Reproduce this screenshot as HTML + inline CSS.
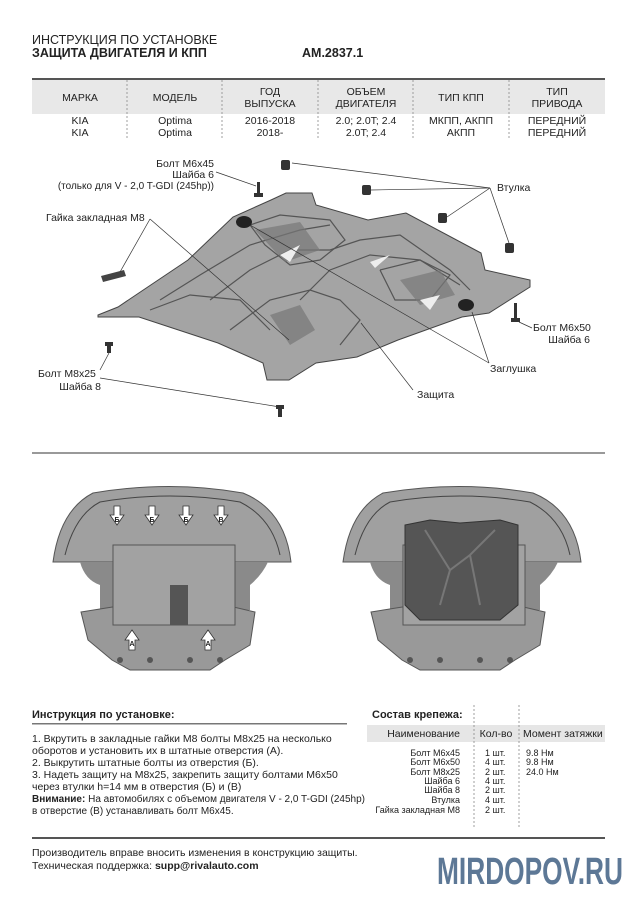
<!DOCTYPE html>
<html><head><meta charset="utf-8"><style>
html,body{margin:0;padding:0;background:#fff;}
svg{display:block;}
text{font-family:"Liberation Sans",sans-serif;fill:#222;}
.s{font-size:10.5px;}
.t{font-size:9px;fill:#333;}
</style></head><body>
<svg width="636" height="900" viewBox="0 0 636 900" xmlns="http://www.w3.org/2000/svg">
<!-- header -->
<text x="32" y="44" font-size="12.5">ИНСТРУКЦИЯ ПО УСТАНОВКЕ</text>
<text x="32" y="57" font-size="12.5" font-weight="bold">ЗАЩИТА ДВИГАТЕЛЯ И КПП</text>
<text x="302" y="57" font-size="12.5" font-weight="bold">АМ.2837.1</text>
<rect x="32" y="78" width="573" height="2" fill="#555"/>
<rect x="32" y="80" width="573" height="34" fill="#e8e8e8"/>
<g stroke="#888" stroke-dasharray="2,2" stroke-width="0.8">
<line x1="127" y1="80" x2="127" y2="140"/><line x1="222" y1="80" x2="222" y2="140"/>
<line x1="318" y1="80" x2="318" y2="140"/><line x1="413" y1="80" x2="413" y2="140"/>
<line x1="509" y1="80" x2="509" y2="140"/></g>
<g font-size="10.5" text-anchor="middle">
<text x="80" y="101">МАРКА</text><text x="175" y="101">МОДЕЛЬ</text>
<text x="270" y="95">ГОД</text><text x="270" y="107">ВЫПУСКА</text>
<text x="366" y="95">ОБЪЕМ</text><text x="366" y="107">ДВИГАТЕЛЯ</text>
<text x="461" y="101">ТИП КПП</text>
<text x="557" y="95">ТИП</text><text x="557" y="107">ПРИВОДА</text>
<text x="80" y="124">KIA</text><text x="80" y="136">KIA</text>
<text x="175" y="124">Optima</text><text x="175" y="136">Optima</text>
<text x="270" y="124">2016-2018</text><text x="270" y="136">2018-</text>
<text x="366" y="124">2.0; 2.0T; 2.4</text><text x="366" y="136">2.0T; 2.4</text>
<text x="461" y="124">МКПП, АКПП</text><text x="461" y="136">АКПП</text>
<text x="557" y="124">ПЕРЕДНИЙ</text><text x="557" y="136">ПЕРЕДНИЙ</text>
</g>

<!-- exploded diagram -->
<polygon points="98,315 118,307 188,260 233,217 271,200 286,193 312,193 316,205 368,220 406,213 481,253 485,270 530,280 530,287 489,313 462,317 398,340 357,357 316,363 289,380 267,380 263,363 218,343 139,317 98,317" fill="#a4a4a4" stroke="#444" stroke-width="1"/>
<g fill="none" stroke="#555" stroke-width="1.2">
<polyline points="160,300 200,275 250,245 300,230 330,225"/>
<polyline points="210,300 250,270 290,250 330,250 360,240 400,235 450,270 470,290"/>
<polyline points="230,330 270,300 310,290 340,300 360,320 340,345"/>
<polyline points="300,300 330,270 370,255 420,260 460,285"/>
<polyline points="250,225 280,215 330,220 345,240 320,260 290,265 265,245 250,225"/>
<polyline points="380,270 420,260 450,275 430,300 395,300 380,270"/>
<polyline points="150,310 190,295 240,300 270,330"/>
</g>
<g fill="#777" opacity="0.7">
<polygon points="255,230 300,222 320,250 285,262"/>
<polygon points="400,280 440,270 455,295 420,305"/>
<polygon points="270,315 300,305 315,330 290,345"/>
</g>
<g fill="#eee"><polygon points="280,255 300,245 290,262"/><polygon points="370,262 390,255 375,268"/><polygon points="420,300 440,295 430,310"/></g>
<g fill="#333"><rect x="281" y="160" width="9" height="10" rx="2"/><rect x="362" y="185" width="9" height="10" rx="2"/><rect x="438" y="213" width="9" height="10" rx="2"/><rect x="505" y="243" width="9" height="10" rx="2"/></g>
<ellipse cx="244" cy="222" rx="8" ry="6" fill="#222"/><ellipse cx="466" cy="305" rx="8" ry="6" fill="#222"/>
<polygon points="101,276 124,270 126,276 103,282" fill="#444"/>
<g fill="#333"><rect x="257" y="182" width="3" height="12"/><rect x="254" y="193" width="9" height="4"/>
<rect x="514" y="303" width="3" height="16"/><rect x="511" y="318" width="9" height="4"/>
<rect x="105" y="342" width="8" height="4"/><rect x="107" y="345" width="4" height="8"/>
<rect x="276" y="405" width="8" height="4"/><rect x="278" y="408" width="4" height="9"/></g>
<g stroke="#333" stroke-width="0.7" fill="none">
<line x1="216" y1="172" x2="256" y2="186"/>
<line x1="150" y1="219" x2="120" y2="272"/><line x1="150" y1="219" x2="289" y2="340"/>
<line x1="292" y1="163" x2="490" y2="188"/><line x1="371" y1="190" x2="490" y2="188"/>
<line x1="447" y1="217" x2="490" y2="188"/><line x1="509" y1="243" x2="490" y2="188"/>
<line x1="489" y1="363" x2="472" y2="312"/><line x1="489" y1="363" x2="250" y2="225"/>
<line x1="413" y1="390" x2="361" y2="323"/>
<line x1="532" y1="328" x2="519" y2="322"/>
<line x1="100" y1="370" x2="109" y2="353"/><line x1="100" y1="378" x2="280" y2="407"/>
</g>
<g class="s">
<text x="214" y="167" text-anchor="end">Болт М6х45</text>
<text x="214" y="178" text-anchor="end">Шайба 6</text>
<text x="214" y="189" text-anchor="end" font-size="10">(только для V - 2,0 T-GDI (245hp))</text>
<text x="46" y="221">Гайка закладная М8</text>
<text x="497" y="191">Втулка</text>
<text x="533" y="331">Болт М6х50</text>
<text x="590" y="343" text-anchor="end">Шайба 6</text>
<text x="490" y="372">Заглушка</text>
<text x="417" y="398">Защита</text>
<text x="38" y="377">Болт М8х25</text>
<text x="101" y="390" text-anchor="end">Шайба 8</text>
</g>

<rect x="32" y="452" width="573" height="2" fill="#999"/>
<!-- photos -->
<g id="car">
<path d="M53,562 Q60,510 93,493 Q170,480 243,493 Q285,510 291,562 Z" fill="#a0a0a0" stroke="#555"/>
<path d="M65,555 Q75,515 100,502 Q170,490 240,502 Q272,518 280,555" fill="none" stroke="#444"/>
<path d="M80,562 Q85,580 100,585 L100,610 L250,610 L250,585 Q262,575 268,562 Z" fill="#8a8a8a"/>
<path d="M81,612 L125,605 L150,618 L200,618 L225,605 L255,612 L250,645 L225,660 L210,670 L130,670 L112,660 L88,640 Z" fill="#999" stroke="#555"/>
<g fill="#555"><circle cx="120" cy="660" r="3"/><circle cx="150" cy="660" r="3"/><circle cx="190" cy="660" r="3"/><circle cx="220" cy="660" r="3"/></g>
</g>
<rect x="113" y="545" width="122" height="80" fill="#a2a2a2" stroke="#555"/>
<rect x="170" y="585" width="18" height="40" fill="#555"/>
<g fill="#fff" stroke="#333" stroke-width="0.8">
<polygon points="114,506 120,506 120,515 124,515 117,525 110,515 114,515"/>
<polygon points="149,506 155,506 155,515 159,515 152,525 145,515 149,515"/>
<polygon points="183,506 189,506 189,515 193,515 186,525 179,515 183,515"/>
<polygon points="218,506 224,506 224,515 228,515 221,525 214,515 218,515"/>
<polygon points="132,630 125,640 129,640 129,650 135,650 135,640 139,640"/>
<polygon points="208,630 201,640 205,640 205,650 211,650 211,640 215,640"/>
</g>
<g font-size="7" font-weight="bold" text-anchor="middle"><text x="117" y="522">Б</text><text x="152" y="522">Б</text><text x="186" y="522">Б</text><text x="221" y="522">В</text><text x="132" y="646">А</text><text x="208" y="646">А</text></g>
<use href="#car" x="290"/>
<rect x="403" y="545" width="122" height="80" fill="#a2a2a2" stroke="#555"/>
<polygon points="405,525 430,520 460,523 500,520 518,525 518,605 500,620 420,620 405,605" fill="#555" stroke="#333"/>
<g stroke="#777" fill="none" stroke-width="2"><polyline points="425,530 450,570 470,555 495,530"/><polyline points="450,570 440,605"/><polyline points="470,555 480,605"/></g>

<!-- instructions -->
<text x="32" y="718" font-size="11" font-weight="bold">Инструкция по установке:</text>
<rect x="32" y="723" width="315" height="1.5" fill="#777"/>
<g font-size="10.5">
<text x="32" y="742">1. Вкрутить в закладные гайки М8 болты М8х25 на несколько</text>
<text x="32" y="754">оборотов и установить их в штатные отверстия (А).</text>
<text x="32" y="766">2. Выкрутить штатные болты из отверстия (Б).</text>
<text x="32" y="778">3. Надеть защиту на М8х25, закрепить защиту болтами М6х50</text>
<text x="32" y="790">через втулки h=14 мм в отверстия (Б) и (В)</text>
</g>
<text x="32" y="802" font-size="10"><tspan font-weight="bold">Внимание:</tspan> На автомобилях с объемом двигателя V - 2,0 T-GDI (245hp)</text>
<text x="32" y="814" font-size="10">в отверстие (В) устанавливать болт М6х45.</text>

<text x="372" y="718" font-size="11" font-weight="bold">Состав крепежа:</text>
<rect x="367" y="725" width="238" height="17" fill="#e6e6e6"/>
<g stroke="#888" stroke-dasharray="2,2" stroke-width="0.8"><line x1="474" y1="705" x2="474" y2="828"/><line x1="519" y1="705" x2="519" y2="828"/></g>
<g font-size="10.5"><text x="460" y="737" text-anchor="end">Наименование</text><text x="496" y="737" text-anchor="middle">Кол-во</text><text x="523" y="737">Момент затяжки</text></g>
<g class="t">
<text x="460" y="756" text-anchor="end">Болт М6х45</text><text x="460" y="765" text-anchor="end">Болт М6х50</text><text x="460" y="775" text-anchor="end">Болт М8х25</text><text x="460" y="784" text-anchor="end">Шайба 6</text><text x="460" y="793" text-anchor="end">Шайба 8</text><text x="460" y="803" text-anchor="end">Втулка</text><text x="460" y="813" text-anchor="end">Гайка закладная М8</text>
<text x="485" y="756">1 шт.</text><text x="485" y="765">4 шт.</text><text x="485" y="775">2 шт.</text><text x="485" y="784">4 шт.</text><text x="485" y="793">2 шт.</text><text x="485" y="803">4 шт.</text><text x="485" y="813">2 шт.</text>
<text x="526" y="756">9.8 Нм</text><text x="526" y="765">9.8 Нм</text><text x="526" y="775">24.0 Нм</text>
</g>

<rect x="32" y="837" width="573" height="2" fill="#555"/>
<text x="32" y="856" font-size="10.5">Производитель вправе вносить изменения в конструкцию защиты.</text>
<text x="32" y="869" font-size="10.5">Техническая поддержка: <tspan font-weight="bold">supp@rivalauto.com</tspan></text>
<text x="437" y="884" font-size="38" font-weight="bold" style="fill:#5d7896" textLength="186" lengthAdjust="spacingAndGlyphs">MIRDOPOV.RU</text>
</svg>
</body></html>
